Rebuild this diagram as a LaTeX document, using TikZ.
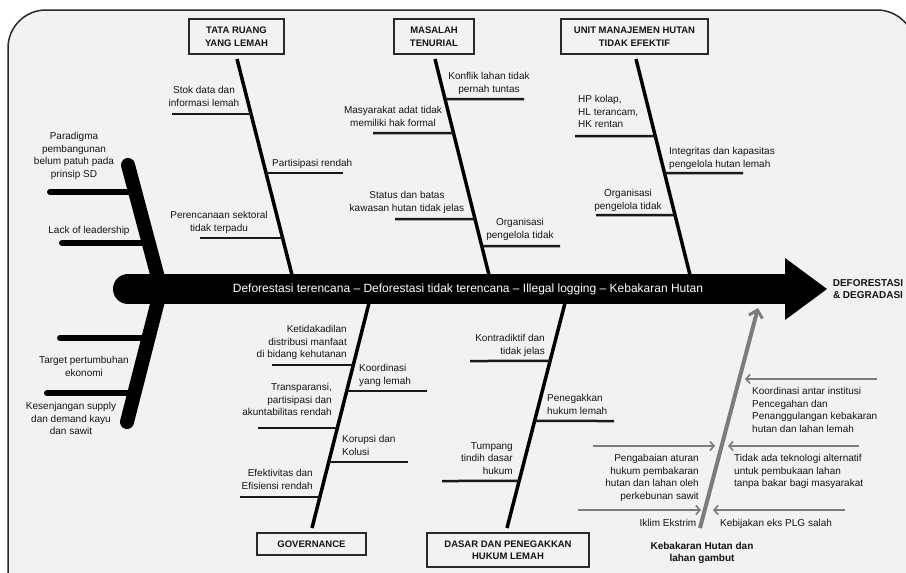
\documentclass[tikz,border=0pt]{standalone}
\usepackage{fontspec}
\setmainfont{Liberation Sans}
\usetikzlibrary{arrows.meta,calc}
\definecolor{bg}{HTML}{F2F2F2}
\definecolor{txt}{HTML}{141414}
\definecolor{frame}{HTML}{2A2A2A}
\definecolor{firegray}{HTML}{7C7C7C}
\tikzset{
  lbl/.style={font=\fontsize{10}{12.7}\selectfont, inner sep=0pt, text=txt},
  blbl/.style={font=\bfseries\fontsize{10}{12.5}\selectfont, inner sep=0pt, text=txt},
  catbox/.style={draw=frame, line width=1.2pt, fill=bg, font=\bfseries\fontsize{9.5}{12.5}\selectfont, text=txt, align=center, inner sep=0pt},
  bone/.style={line width=3.5pt, draw=black},
  sub/.style={line width=2.5pt, draw=black!90},
  thickbone/.style={line width=14pt, draw=black, line cap=round, line join=round},
  thicksub/.style={line width=6pt, draw=black, line cap=round},
  firearrow/.style={line width=4pt, draw=firegray, -{Straight Barb[length=7pt,width=14pt,line width=3pt]}},
  thinarrow/.style={line width=2pt, draw=firegray, -{Straight Barb[length=4pt,width=9pt,line width=1.6pt]}},
}
\begin{document}
\begin{tikzpicture}[x=1pt,y=-1pt]
\useasboundingbox (0,0) rectangle (906,573);
\fill[white] (0,0) rectangle (906,573);
\begin{scope}
\clip (0,0) rectangle (906,573);
\draw[line width=1.5pt, draw=frame, fill=bg, rounded corners=38pt] (8,620) -- (8,10) -- (915,10) -- (915,620);
\end{scope}

% ---------- spine ----------
\coordinate (spineL) at (128,289);
\coordinate (spineR) at (786,289);
\coordinate (headT) at (785,258);
\coordinate (headTip) at (827,289);
\coordinate (headB) at (785,320);
\draw[line width=30pt, line cap=round] (spineL) -- (spineR);
\fill (headT) -- (headTip) -- (headB) -- cycle;
\node[lbl, text=white, font=\fontsize{12}{14}\selectfont] (spinetxt) at (468,289) {Deforestasi terencana -- Deforestasi tidak terencana -- Illegal logging -- Kebakaran Hutan};
\node[blbl, align=center, anchor=north] (effect) at (868,279) {DEFORESTASI\\\& DEGRADASI};

% ---------- left thick bone ----------
\coordinate (lbTop) at (128,165);
\coordinate (lbMid) at (161,289);
\coordinate (lbBot) at (127,422);
\draw[thickbone] (lbTop) -- (lbMid) -- (lbBot);
\coordinate (l1) at (50,192);
\coordinate (l2) at (62,243);
\coordinate (l3) at (60,338);
\coordinate (l4) at (47,393);
\draw[thicksub] (l1) -- (intersection of lbTop--lbMid and 0,192--1,192);
\draw[thicksub] (l2) -- (intersection of lbTop--lbMid and 0,243--1,243);
\draw[thicksub] (l3) -- (intersection of lbMid--lbBot and 0,338--1,338);
\draw[thicksub] (l4) -- (intersection of lbMid--lbBot and 0,393--1,393);
\node[lbl, align=center, anchor=north] (t1) at (74,132) {Paradigma\\pembangunan\\belum patuh pada\\prinsip SD};
\node[lbl, align=center, anchor=north] (t2) at (89,226) {Lack of leadership};
\node[lbl, align=center, anchor=north] (t3) at (84,356) {Target pertumbuhan\\ekonomi};
\node[lbl, align=center, anchor=north] (t4) at (71,402) {Kesenjangan supply\\dan demand kayu\\dan sawit};

% ---------- top categories ----------
\node[catbox, minimum width=95pt, minimum height=35pt] (tata) at (236.5,36.5) {TATA RUANG\\YANG LEMAH};
\node[catbox, minimum width=80pt, minimum height=35pt] (masalah) at (434,36.5) {MASALAH\\TENURIAL};
\node[catbox, minimum width=147pt, minimum height=35pt] (unit) at (634.5,36.5) {UNIT MANAJEMEN HUTAN\\TIDAK EFEKTIF};

\coordinate (tataTop) at (237,59);
\coordinate (tataEnd) at (292,275);
\coordinate (masTop) at (435,59);
\coordinate (masEnd) at (489,275);
\coordinate (unitTop) at (636,59);
\coordinate (unitEnd) at (690,275);
\draw[bone] (tataTop) -- (tataEnd);
\draw[bone] (masTop) -- (masEnd);
\draw[bone] (unitTop) -- (unitEnd);

% tata ruang
\coordinate (a1) at (172,114);
\coordinate (a2) at (343,173);
\coordinate (a3) at (200,238);
\draw[sub] (a1) -- (intersection of tataTop--tataEnd and 0,114--1,114);
\draw[sub] (a2) -- (intersection of tataTop--tataEnd and 0,173--1,173);
\draw[sub] (a3) -- (intersection of tataTop--tataEnd and 0,238--1,238);
\node[lbl, align=center, anchor=north] (ta1) at (204,86) {Stok data dan\\informasi lemah};
\node[lbl, align=left, anchor=north west] (ta2) at (272,159) {Partisipasi rendah};
\node[lbl, align=center, anchor=north] (ta3) at (219,211) {Perencanaan sektoral\\tidak terpadu};

% masalah tenurial
\coordinate (b1) at (524,99);
\coordinate (b2) at (373,133);
\coordinate (b3) at (395,219);
\coordinate (b4) at (560,246);
\draw[sub] (b1) -- (intersection of masTop--masEnd and 0,99--1,99);
\draw[sub] (b2) -- (intersection of masTop--masEnd and 0,133--1,133);
\draw[sub] (b3) -- (intersection of masTop--masEnd and 0,219--1,219);
\draw[sub] (b4) -- (intersection of masTop--masEnd and 0,246--1,246);
\node[lbl, align=center, anchor=north] (tb1) at (489,72) {Konflik lahan tidak\\pernah tuntas};
\node[lbl, align=center, anchor=north] (tb2) at (393,106) {Masyarakat adat tidak\\memiliki hak formal};
\node[lbl, align=center, anchor=north] (tb3) at (407,191) {Status dan batas\\kawasan hutan tidak jelas};
\node[lbl, align=center, anchor=north] (tb4) at (520,218) {Organisasi\\pengelola tidak};

% unit manajemen
\coordinate (c1) at (575,136);
\coordinate (c2) at (743,173);
\coordinate (c3) at (596,215);
\draw[sub] (c1) -- (intersection of unitTop--unitEnd and 0,136--1,136);
\draw[sub] (c2) -- (intersection of unitTop--unitEnd and 0,173--1,173);
\draw[sub] (c3) -- (intersection of unitTop--unitEnd and 0,215--1,215);
\node[lbl, align=left, anchor=north west] (tc1) at (578,95) {HP kolap,\\HL terancam,\\HK rentan};
\node[lbl, align=left, anchor=north west] (tc2) at (669,147) {Integritas dan kapasitas\\pengelola hutan lemah};
\node[lbl, align=center, anchor=north] (tc3) at (628,189) {Organisasi\\pengelola tidak};

% ---------- bottom categories ----------
\node[catbox, minimum width=109pt, minimum height=22pt] (gov) at (311.5,544) {GOVERNANCE};
\node[catbox, minimum width=162pt, minimum height=34pt] (dasar) at (508,550) {DASAR DAN PENEGAKKAN\\HUKUM LEMAH};

\coordinate (govTop) at (369,303);
\coordinate (govEnd) at (312,528);
\coordinate (dasTop) at (565,303);
\coordinate (dasEnd) at (507,528);
\draw[bone] (govTop) -- (govEnd);
\draw[bone] (dasTop) -- (dasEnd);

% governance
\coordinate (d1) at (272,365);
\coordinate (d2) at (427,391);
\coordinate (d3) at (258,428);
\coordinate (d4) at (408,462);
\coordinate (d5) at (240,497);
\draw[sub] (d1) -- (intersection of govTop--govEnd and 0,365--1,365);
\draw[sub] (d2) -- (intersection of govTop--govEnd and 0,391--1,391);
\draw[sub] (d3) -- (intersection of govTop--govEnd and 0,428--1,428);
\draw[sub] (d4) -- (intersection of govTop--govEnd and 0,462--1,462);
\draw[sub] (d5) -- (intersection of govTop--govEnd and 0,497--1,497);
\node[lbl, align=right, anchor=north east] (td1) at (347,325) {Ketidakadilan\\distribusi manfaat\\di bidang kehutanan};
\node[lbl, align=left, anchor=north west] (td2) at (359,364) {Koordinasi\\yang lemah};
\node[lbl, align=right, anchor=north east] (td3) at (332,383) {Transparansi,\\partisipasi dan\\akuntabilitas rendah};
\node[lbl, align=left, anchor=north west] (td4) at (342,435) {Korupsi dan\\Kolusi};
\node[lbl, align=right, anchor=north east] (td5) at (313,469) {Efektivitas dan\\Efisiensi rendah};

% dasar hukum
\coordinate (e1) at (470,361);
\coordinate (e2) at (614,421);
\coordinate (e3) at (442,481);
\draw[sub] (e1) -- (intersection of dasTop--dasEnd and 0,361--1,361);
\draw[sub] (e2) -- (intersection of dasTop--dasEnd and 0,421--1,421);
\draw[sub] (e3) -- (intersection of dasTop--dasEnd and 0,481--1,481);
\node[lbl, align=right, anchor=north east] (te1) at (545,334) {Kontradiktif dan\\tidak jelas};
\node[lbl, align=left, anchor=north west] (te2) at (547,394) {Penegakkan\\hukum lemah};
\node[lbl, align=right, anchor=north east] (te3) at (513,442) {Tumpang\\tindih dasar\\hukum};

% ---------- fire branch ----------
\coordinate (fireStart) at (700,528);
\coordinate (fireTip) at (758,308);
\draw[firearrow] (fireStart) -- (fireTip);
\coordinate (f1s) at (877,379);
\coordinate (f1e) at (745,379);
\coordinate (f2s) at (593,446);
\coordinate (f2e) at (715,446);
\coordinate (f3s) at (859,446);
\coordinate (f3e) at (728,446);
\coordinate (f4s) at (578,510);
\coordinate (f4e) at (701,510);
\coordinate (f5s) at (845,510);
\coordinate (f5e) at (713,510);
\draw[thinarrow] (f1s) -- (f1e);
\draw[thinarrow] (f2s) -- (f2e);
\draw[thinarrow] (f3s) -- (f3e);
\draw[thinarrow] (f4s) -- (f4e);
\draw[thinarrow] (f5s) -- (f5e);
\node[lbl, align=left, anchor=north west] (tf1) at (752,387) {Koordinasi antar institusi\\Pencegahan dan\\Penanggulangan kebakaran\\hutan dan lahan lemah};
\node[lbl, align=right, anchor=north east] (tf2) at (699,454) {Pengabaian aturan\\hukum pembakaran\\hutan dan lahan oleh\\perkebunan sawit};
\node[lbl, align=left, anchor=north west] (tf3) at (734,454) {Tidak ada teknologi alternatif\\untuk pembukaan lahan\\tanpa bakar bagi masyarakat};
\node[lbl, align=center, anchor=north] (tf4) at (668,519) {Iklim Ekstrim};
\node[lbl, align=left, anchor=north west] (tf5) at (720,519) {Kebijakan eks PLG salah};
\node[blbl, align=center, anchor=north] (fire) at (702,542) {Kebakaran Hutan dan\\lahan gambut};
\end{tikzpicture}
\end{document}
